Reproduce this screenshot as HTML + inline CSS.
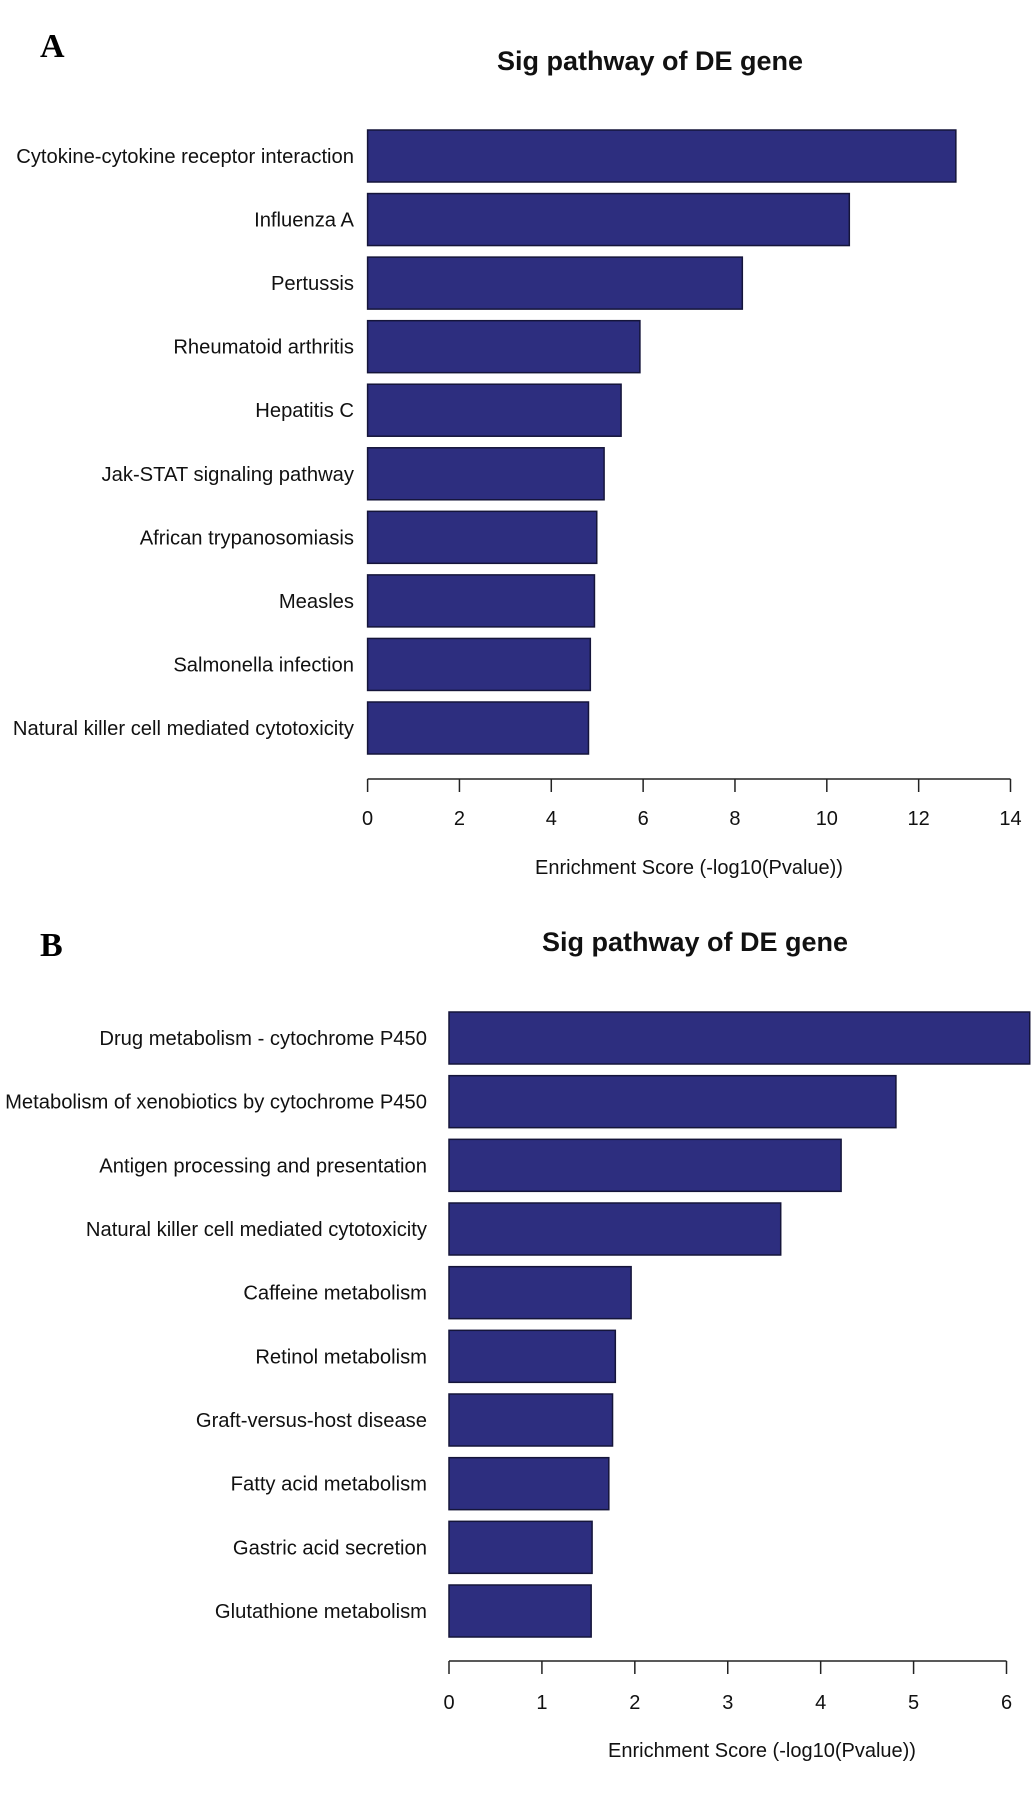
<!DOCTYPE html>
<html><head><meta charset="utf-8"><style>
html,body{margin:0;padding:0;background:#fff;}
svg{display:block;font-family:"Liberation Sans",Arial,sans-serif;}
</style></head><body>
<svg id="chart" width="1033" height="1802" viewBox="0 0 1033 1802">
<text x="40" y="57" font-family="Liberation Serif,serif" font-weight="bold" font-size="34">A</text>
<text x="40" y="956" font-family="Liberation Serif,serif" font-weight="bold" font-size="34">B</text>
</svg>
<script>
const catsA = ["Cytokine-cytokine receptor interaction","Influenza A","Pertussis","Rheumatoid arthritis","Hepatitis C","Jak-STAT signaling pathway","African trypanosomiasis","Measles","Salmonella infection","Natural killer cell mediated cytotoxicity"];
const valsA = [12.81,10.49,8.16,5.93,5.52,5.15,4.99,4.94,4.85,4.81];
const ticksA = [0,2,4,6,8,10,12,14];
const catsB = ["Drug metabolism - cytochrome P450","Metabolism of xenobiotics by cytochrome P450","Antigen processing and presentation","Natural killer cell mediated cytotoxicity","Caffeine metabolism","Retinol metabolism","Graft-versus-host disease","Fatty acid metabolism","Gastric acid secretion","Glutathione metabolism"];
const valsB = [6.25,4.81,4.22,3.57,1.96,1.79,1.76,1.72,1.54,1.53];
const ticksB = [0,1,2,3,4,5,6];

const NS="http://www.w3.org/2000/svg";
const svg=document.getElementById('chart');
function mk(tag,attrs,parent){const e=document.createElementNS(NS,tag);for(const k in attrs)e.setAttribute(k,attrs[k]);(parent||svg).appendChild(e);return e;}

function panel(p,cats,vals,ticks,id){
  const g=mk('g',{});
  
  
  const x=v=>p.x0+(v-ticks[0])/(ticks[ticks.length-1]-ticks[0])*(p.x1-p.x0);
  const pitch=(p.lastTop-p.firstTop)/(cats.length-1);
  const t=mk('text',{x:p.titleX,y:p.titleY,'text-anchor':'middle','font-size':27,'font-weight':'bold',fill:'#111'},g);
  t.textContent="Sig pathway of DE gene";
  
  
  cats.forEach((c,i)=>{
    const top=p.firstTop+i*pitch;
    const r=mk('rect',{x:x(0),y:top,width:x(vals[i])-x(0),height:p.barH,fill:'#2d2e7f',stroke:'#15153a','stroke-width':1.5},g);
    
    
    const l=mk('text',{x:p.labelX,y:top+p.barH/2+7,'text-anchor':'end','font-size':20.2,fill:'#111'},g);
    l.textContent=c;
    
    
  });
  const ax=mk('line',{x1:x(ticks[0]),x2:x(ticks[ticks.length-1]),y1:p.axisY,y2:p.axisY,stroke:'#222','stroke-width':1.5},g);
  
  
  ticks.forEach(v=>{
    const tk=mk('line',{x1:x(v),x2:x(v),y1:p.axisY,y2:p.axisY+13,stroke:'#222','stroke-width':1.5},g);
    
    
    const tl=mk('text',{x:x(v),y:p.tickY,'text-anchor':'middle','font-size':20,fill:'#111'},g);
    tl.textContent=v;
    
    
  });
  const at=mk('text',{x:p.axTitleX,y:p.axTitleY,'text-anchor':'middle','font-size':20,fill:'#111'},g);
  at.textContent="Enrichment Score (-log10(Pvalue))";
  
  
}
panel({x0:367.6,x1:1010.5,firstTop:130,lastTop:702,barH:52,labelX:354,axisY:779,tickY:825,axTitleX:689,axTitleY:874,titleX:650,titleY:70},catsA,valsA,ticksA,'panel-a');
panel({x0:449,x1:1006.5,firstTop:1012,lastTop:1585,barH:52,labelX:427,axisY:1661,tickY:1709,axTitleX:762,axTitleY:1757,titleX:695,titleY:951},catsB,valsB,ticksB,'panel-b');
</script>
</body></html>
